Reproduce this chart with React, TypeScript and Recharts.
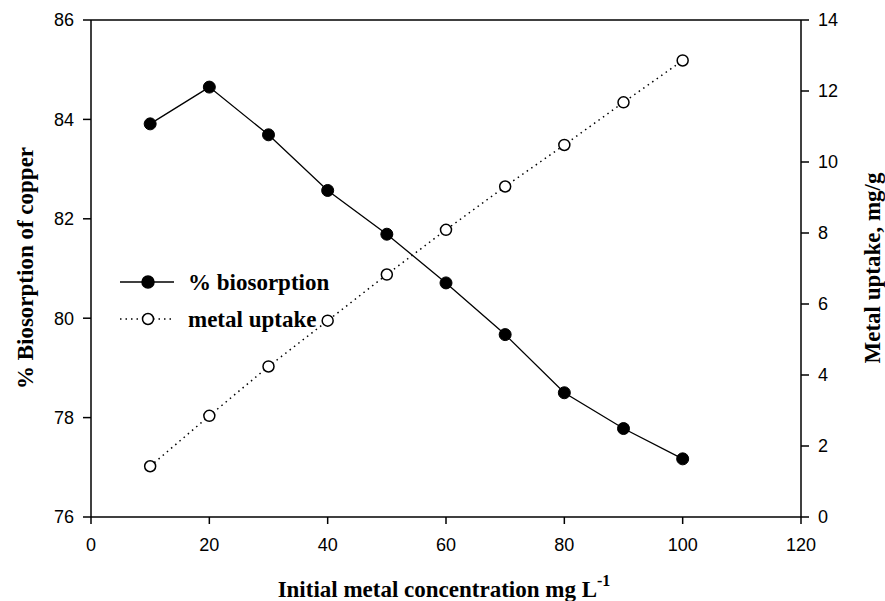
import { Label, Line, LineChart, ReferenceLine, XAxis, YAxis } from "recharts";

// Initial metal concentration (mg/L) and the two measured series
const CONC = [10, 20, 30, 40, 50, 60, 70, 80, 90, 100];
const BIOSORPTION = [83.91, 84.65, 83.69, 82.57, 81.69, 80.71, 79.67, 78.5, 77.78, 77.17];
const UPTAKE = [1.43, 2.85, 4.24, 5.53, 6.83, 8.09, 9.31, 10.48, 11.68, 12.86];

const X_TICKS = [0, 20, 40, 60, 80, 100, 120];
const LEFT_TICKS = [76, 78, 80, 82, 84, 86];
const RIGHT_TICKS = [0, 2, 4, 6, 8, 10, 12, 14];

const SANS = "'Liberation Sans', Arial, sans-serif";
const SERIF = "'Liberation Serif', 'Times New Roman', serif";

const data = CONC.map((c, i) => ({ conc: c, bio: BIOSORPTION[i], uptake: UPTAKE[i] }));

const tick = { fill: "#000", fontSize: 18, fontFamily: SANS };
const axisLine = { stroke: "#000", strokeWidth: 1.5 };
const tickLine = { stroke: "#000", strokeWidth: 1.5 };
const titleStyle = { fontFamily: SERIF, fontWeight: 700, fontSize: 23, fill: "#000" };

function Legend() {
  const row = (y: number, filled: boolean, text: string) => (
    <g>
      <line
        x1={120}
        x2={174}
        y1={y}
        y2={y}
        stroke="#000"
        strokeWidth={1.5}
        strokeDasharray={filled ? undefined : "1.5 4"}
      />
      <circle cx={148} cy={y} r={filled ? 6 : 5.5} fill={filled ? "#000" : "#fff"} stroke="#000" strokeWidth={1.5} />
      <text x={188} y={y} dominantBaseline="central" style={titleStyle}>
        {text}
      </text>
    </g>
  );
  return (
    <svg width={885} height={601} style={{ position: "absolute", left: 0, top: 0, pointerEvents: "none" }}>
      {row(282, true, "% biosorption")}
      {row(319, false, "metal uptake")}
    </svg>
  );
}

export default function App() {
  return (
    <div style={{ position: "fixed", left: 0, top: 0, width: 885, height: 601, background: "#fff" }}>
      <LineChart width={885} height={601} data={data} margin={{ top: 20, right: 0, bottom: 0, left: 0 }}>
        <XAxis
          dataKey="conc"
          type="number"
          domain={[0, 120]}
          ticks={X_TICKS}
          height={84}
          tick={tick}
          tickSize={7}
          tickMargin={14}
          axisLine={axisLine}
          tickLine={tickLine}
        >
          <Label
            content={() => (
              <text x={444} y={597} textAnchor="middle" style={titleStyle}>
                Initial metal concentration mg L
                <tspan dy={-11} fontSize={16}>
                  -1
                </tspan>
              </text>
            )}
          />
        </XAxis>
        <YAxis
          yAxisId="left"
          domain={[76, 86]}
          ticks={LEFT_TICKS}
          width={91}
          tick={tick}
          tickSize={8}
          tickMargin={9}
          axisLine={axisLine}
          tickLine={tickLine}
        >
          <Label
            content={() => (
              <text
                x={25}
                y={268}
                textAnchor="middle"
                dominantBaseline="central"
                transform="rotate(-90 25 268)"
                style={titleStyle}
              >
                % Biosorption of copper
              </text>
            )}
          />
        </YAxis>
        <YAxis
          yAxisId="right"
          orientation="right"
          domain={[0, 14]}
          ticks={RIGHT_TICKS}
          width={84}
          tick={tick}
          tickSize={8}
          tickMargin={9}
          axisLine={axisLine}
          tickLine={tickLine}
        >
          <Label
            content={() => (
              <text
                x={872}
                y={268}
                textAnchor="middle"
                dominantBaseline="central"
                transform="rotate(-90 872 268)"
                style={titleStyle}
              >
                Metal uptake, mg/g
              </text>
            )}
          />
        </YAxis>
        <ReferenceLine yAxisId="left" y={86} stroke="#000" strokeWidth={1.5} />
        <Line
          yAxisId="left"
          dataKey="bio"
          type="linear"
          stroke="#000"
          strokeWidth={1.3}
          dot={{ r: 6, fill: "#000", stroke: "#000", strokeWidth: 1 }}
          isAnimationActive={false}
        />
        <Line
          yAxisId="right"
          dataKey="uptake"
          type="linear"
          stroke="#000"
          strokeWidth={1.5}
          strokeDasharray="1.5 4"
          dot={{ r: 5.5, fill: "#fff", stroke: "#000", strokeWidth: 1.5, strokeDasharray: "0" }}
          isAnimationActive={false}
        />
      </LineChart>
      <Legend />
    </div>
  );
}
